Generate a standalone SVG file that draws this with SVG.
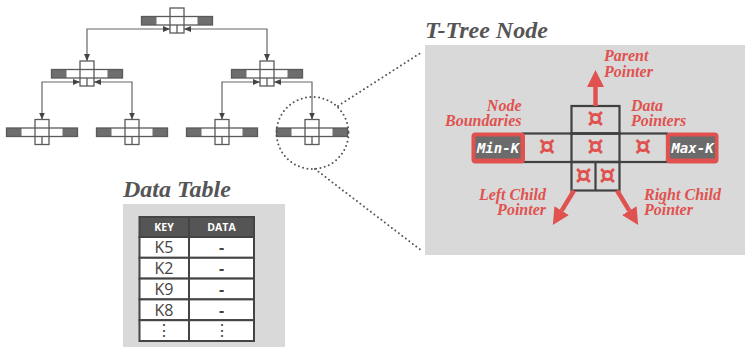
<svg xmlns="http://www.w3.org/2000/svg" xmlns:xlink="http://www.w3.org/1999/xlink" width="745" height="348" viewBox="0 0 745 348">
<style>
.tl{fill:none;stroke:#5a5a5a;stroke-width:1.3}
.conn{fill:none;stroke:#666;stroke-width:1.2}
.dot{fill:none;stroke:#555;stroke-width:2;stroke-dasharray:0 4.4;stroke-linecap:round}
.title{font-family:"Liberation Serif",serif;font-weight:bold;font-style:italic;font-size:24px;fill:#555}
.lbl{font-family:"Liberation Serif",serif;font-weight:bold;font-style:italic;font-size:16px;fill:#e0524f}
.pl{fill:none;stroke:#404040;stroke-width:2.2}
.sym{font-family:"DejaVu Sans",sans-serif;font-weight:bold;font-size:26px;fill:#e0524f;text-anchor:middle}
.key{font-family:"DejaVu Sans Mono",monospace;font-weight:bold;font-style:italic;font-size:14px;fill:#fff;text-anchor:middle}
.th{font-family:"Open Sans",sans-serif;font-weight:bold;font-size:10.5px;fill:#fff;text-anchor:middle}
.td{font-family:"Open Sans",sans-serif;font-size:16px;fill:#444;text-anchor:middle}
.cell{fill:#fff;stroke:#444;stroke-width:2}
.redarrow{fill:none;stroke:#e0524f;stroke-width:4.5}
</style>
<defs>
<marker id="ah" markerUnits="userSpaceOnUse" markerWidth="7" markerHeight="6" viewBox="0 0 7 6" refX="7" refY="3" orient="auto-start-reverse">
<path d="M0,0 L7,3 L0,6 z" fill="#444"/>
</marker>
<marker id="rh" markerUnits="userSpaceOnUse" markerWidth="17" markerHeight="17" viewBox="0 0 17 17" refX="0" refY="8.5" orient="auto">
<path d="M0,0 L17,8.5 L0,17 z" fill="#e0524f"/>
</marker>
<g id="tn">
<rect x="-35.5" y="8.5" width="71" height="8.5" fill="#fff"/>
<rect x="-35.5" y="8.5" width="15" height="8.5" fill="#6e6e6e"/>
<rect x="20.5" y="8.5" width="15" height="8.5" fill="#6e6e6e"/>
<rect x="-7" y="0" width="14" height="25" fill="#fff" class="tl"/>
<rect x="-35.5" y="8.5" width="71" height="8.5" class="tl"/>
<line x1="0" y1="17" x2="0" y2="25" class="tl"/>
</g>
</defs>

<g id="connectors">
<path class="conn" d="M170,29 H87 V61" marker-start="url(#ah)" marker-end="url(#ah)"/>
<path class="conn" d="M184,29 H267 V61" marker-start="url(#ah)" marker-end="url(#ah)"/>
<path class="conn" d="M80,82 H42 V119.5" marker-start="url(#ah)" marker-end="url(#ah)"/>
<path class="conn" d="M94,82 H132 V119.5" marker-start="url(#ah)" marker-end="url(#ah)"/>
<path class="conn" d="M260,82 H222 V119.5" marker-start="url(#ah)" marker-end="url(#ah)"/>
<path class="conn" d="M274,82 H312 V119.5" marker-start="url(#ah)" marker-end="url(#ah)"/>
<line class="dot" x1="338" y1="106" x2="422" y2="52"/>
<line class="dot" x1="315" y1="169" x2="422" y2="251"/>
</g>

<g id="node-root"><use xlink:href="#tn" href="#tn" transform="translate(177,8)"/></g>
<g id="node-l"><use xlink:href="#tn" href="#tn" transform="translate(87,61)"/></g>
<g id="node-r"><use xlink:href="#tn" href="#tn" transform="translate(267,61)"/></g>
<g id="node-ll"><use xlink:href="#tn" href="#tn" transform="translate(42,119.5)"/></g>
<g id="node-lr"><use xlink:href="#tn" href="#tn" transform="translate(132,119.5)"/></g>
<g id="node-rl"><use xlink:href="#tn" href="#tn" transform="translate(222,119.5)"/></g>
<g id="node-rr"><use xlink:href="#tn" href="#tn" transform="translate(312,119.5)"/></g>
<g id="zoom-circle"><circle class="dot" cx="312.5" cy="133" r="36"/></g>

<g id="data-table">
<text class="title" x="123" y="197">Data Table</text>
<rect x="123" y="204" width="162" height="143" fill="#d9d9d9"/>
<rect x="139.5" y="217" width="114.5" height="20" fill="#555" stroke="#444" stroke-width="2"/>
<line x1="189" y1="217" x2="189" y2="237" stroke="#444" stroke-width="2"/>
<text class="th" x="164" y="231">KEY</text>
<text class="th" x="221.5" y="231">DATA</text>
<rect class="cell" x="139.5" y="237" width="49.5" height="20.8"/><rect class="cell" x="189" y="237" width="65" height="20.8"/>
<rect class="cell" x="139.5" y="257.8" width="49.5" height="20.8"/><rect class="cell" x="189" y="257.8" width="65" height="20.8"/>
<rect class="cell" x="139.5" y="278.6" width="49.5" height="20.8"/><rect class="cell" x="189" y="278.6" width="65" height="20.8"/>
<rect class="cell" x="139.5" y="299.4" width="49.5" height="20.8"/><rect class="cell" x="189" y="299.4" width="65" height="20.8"/>
<rect class="cell" x="139.5" y="320.2" width="49.5" height="20.8"/><rect class="cell" x="189" y="320.2" width="65" height="20.8"/>
<text class="td" x="164" y="253.3">K5</text><text class="td" x="221.5" y="253.3" font-weight="bold">-</text>
<text class="td" x="164" y="274.1">K2</text><text class="td" x="221.5" y="274.1" font-weight="bold">-</text>
<text class="td" x="164" y="294.9">K9</text><text class="td" x="221.5" y="294.9" font-weight="bold">-</text>
<text class="td" x="164" y="315.7">K8</text><text class="td" x="221.5" y="315.7" font-weight="bold">-</text>
<text class="td" x="164" y="336" font-family="DejaVu Sans, sans-serif" font-size="14">⋮</text><text class="td" x="221.5" y="336" font-family="DejaVu Sans, sans-serif" font-size="14">⋮</text>
</g>

<g id="ttree-node-detail">
<text class="title" x="425" y="38">T-Tree Node</text>
<rect x="425" y="45" width="320" height="210" fill="#d9d9d9"/>
<rect x="523" y="133.5" width="144" height="28.5" fill="#fff" class="pl"/>
<rect x="571.5" y="106" width="48" height="27.5" fill="#fff" class="pl"/>
<rect x="571.5" y="133.5" width="48" height="28.5" fill="#fff" class="pl"/>
<rect x="571.5" y="162" width="48" height="28.5" fill="#fff" class="pl"/>
<line x1="595.5" y1="162" x2="595.5" y2="190.5" class="pl"/>
<rect x="471.5" y="132.5" width="53.5" height="31" rx="4" fill="#e0524f"/>
<rect x="475.5" y="136.5" width="45" height="22" fill="#6b6b6b"/>
<rect x="666" y="132.5" width="52.5" height="31" rx="4" fill="#e0524f"/>
<rect x="670" y="136.5" width="45" height="22" fill="#6b6b6b"/>
<text class="key" x="498" y="153">Min-K</text>
<text class="key" x="692.5" y="153">Max-K</text>
<text class="sym" x="595.5" y="127">¤</text>
<text class="sym" x="547" y="155.2">¤</text>
<text class="sym" x="595.5" y="155.2">¤</text>
<text class="sym" x="643" y="155.2">¤</text>
<text class="sym" x="583.5" y="183.5">¤</text>
<text class="sym" x="607.5" y="183.5">¤</text>
<line class="redarrow" x1="595.5" y1="106" x2="595.5" y2="87" marker-end="url(#rh)"/>
<line class="redarrow" x1="574" y1="190.5" x2="561.7" y2="210.6" marker-end="url(#rh)"/>
<line class="redarrow" x1="617" y1="190.5" x2="629.3" y2="210.6" marker-end="url(#rh)"/>
<text class="lbl" x="604" y="61">Parent</text>
<text class="lbl" x="604" y="76.7">Pointer</text>
<text class="lbl" x="521.5" y="110.5" text-anchor="end">Node</text>
<text class="lbl" x="521.5" y="126" text-anchor="end">Boundaries</text>
<text class="lbl" x="631" y="110.5">Data</text>
<text class="lbl" x="631" y="126">Pointers</text>
<text class="lbl" x="546" y="199.5" text-anchor="end">Left Child</text>
<text class="lbl" x="546" y="215" text-anchor="end">Pointer</text>
<text class="lbl" x="644" y="199.5">Right Child</text>
<text class="lbl" x="644" y="215">Pointer</text>
</g>
</svg>
